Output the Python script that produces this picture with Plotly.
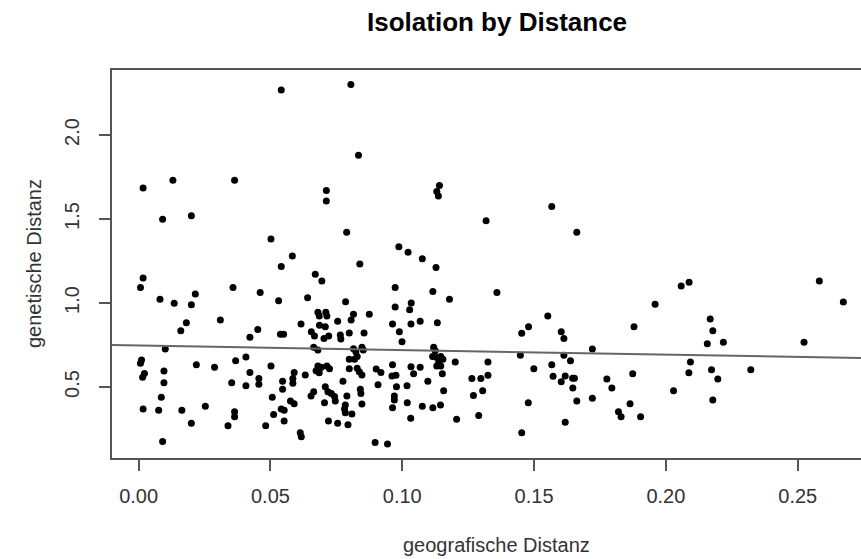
import plotly.graph_objects as go

# Data (geografische Distanz, genetische Distanz)
geo_dist = [
    0.0541, 0.0017, 0.0130, 0.0364, 0.0091, 0.0200, 0.0502, 0.0583,
    0.0805, 0.0834, 0.0712, 0.0712, 0.1141, 0.1131, 0.1137, 0.1318, 0.0789, 0.0987, 0.1022, 0.1076,
    0.1567, 0.1662,
    0.0541, 0.0017, 0.0007, 0.0358, 0.0461, 0.0081, 0.0135, 0.0200, 0.0215, 0.0531,
    0.0181, 0.0160, 0.0310, 0.0452, 0.0422, 0.0538, 0.0550, 0.0101, 0.0011, 0.0007,
    0.0022, 0.0015, 0.0096, 0.0096, 0.0086, 0.0017, 0.0076, 0.0091, 0.0219, 0.0288,
    0.0164, 0.0253, 0.0200, 0.0368, 0.0407, 0.0422, 0.0353, 0.0407, 0.0456, 0.0456,
    0.0502, 0.0507, 0.0364, 0.0364, 0.0339, 0.0482, 0.0512, 0.0541, 0.0552, 0.0552,
    0.0546, 0.0546, 0.0590, 0.0585, 0.0585, 0.0576, 0.0590,
    0.0839, 0.1128, 0.0670, 0.0695, 0.0973, 0.1116, 0.1179, 0.0641, 0.0785, 0.0973,
    0.1034, 0.1028, 0.0680, 0.0710, 0.0685, 0.0714, 0.0815, 0.0806, 0.0875, 0.0616,
    0.0755, 0.0686, 0.0708, 0.0963, 0.1033, 0.1068, 0.1133, 0.0655, 0.0667, 0.0703,
    0.0721, 0.0765, 0.0767, 0.0799, 0.0855, 0.0989, 0.0999, 0.0664, 0.0680, 0.0815,
    0.0824, 0.0847, 0.0852, 0.0829, 0.0819, 0.0799, 0.1119, 0.1125, 0.1115, 0.1131,
    0.1146, 0.1154, 0.1138, 0.1146, 0.1131, 0.1201, 0.1325, 0.0632, 0.0680, 0.0693,
    0.0714, 0.0724, 0.0673, 0.0685, 0.0799, 0.0829, 0.0837, 0.0847, 0.0901, 0.0919,
    0.0963, 0.0961, 0.0976, 0.1033, 0.1043, 0.1068, 0.1152, 0.1097, 0.1264, 0.1298,
    0.1325, 0.0775, 0.0908, 0.0978, 0.1018, 0.1157, 0.1270, 0.1305, 0.0708, 0.0718,
    0.0731, 0.0743, 0.0664, 0.0654, 0.0705, 0.0746, 0.0790, 0.0841, 0.0843, 0.0847,
    0.0784, 0.0781, 0.0784, 0.0809, 0.0970, 0.0970, 0.0963, 0.1019, 0.1076, 0.1116,
    0.1145, 0.1032, 0.1206, 0.1290, 0.0720, 0.0755, 0.0794, 0.0613, 0.0617, 0.0897,
    0.0944,
    0.1359, 0.2058, 0.1959, 0.1552, 0.1453, 0.1479, 0.1603, 0.1613, 0.1879, 0.1721,
    0.1448, 0.1499, 0.1613, 0.1638, 0.1567, 0.1572, 0.1618, 0.1603, 0.1646, 0.1653,
    0.1647, 0.1776, 0.1795, 0.1874, 0.2029, 0.1478, 0.1662, 0.1721, 0.1864, 0.1820,
    0.1830, 0.1904, 0.1618, 0.1453,
    0.2088, 0.2582, 0.2673, 0.2168, 0.2178, 0.2157, 0.2218, 0.2524, 0.2093, 0.2087,
    0.2173, 0.2197, 0.2322, 0.2178,
]

gen_dist = [
    2.268, 1.685, 1.730, 1.730, 1.498, 1.520, 1.381, 1.280,
    2.300, 1.879, 1.669, 1.607, 1.700, 1.663, 1.637, 1.490, 1.421, 1.335, 1.302, 1.264,
    1.575, 1.421,
    1.218, 1.149, 1.093, 1.093, 1.062, 1.022, 0.998, 0.990, 1.054, 1.014,
    0.883, 0.835, 0.899, 0.843, 0.796, 0.814, 0.814, 0.726, 0.661, 0.641,
    0.581, 0.558, 0.595, 0.526, 0.439, 0.369, 0.361, 0.175, 0.633, 0.617,
    0.361, 0.385, 0.284, 0.657, 0.679, 0.587, 0.526, 0.508, 0.550, 0.516,
    0.625, 0.439, 0.353, 0.323, 0.270, 0.270, 0.337, 0.369, 0.361, 0.298,
    0.534, 0.486, 0.587, 0.550, 0.522, 0.417, 0.401,
    1.232, 1.212, 1.171, 1.131, 1.093, 1.069, 1.022, 1.032, 1.008, 0.976,
    1.000, 0.960, 0.945, 0.945, 0.923, 0.923, 0.933, 0.899, 0.933, 0.875,
    0.891, 0.867, 0.859, 0.875, 0.875, 0.891, 0.883, 0.829, 0.804, 0.788,
    0.804, 0.810, 0.786, 0.821, 0.821, 0.829, 0.770, 0.736, 0.720, 0.728,
    0.710, 0.736, 0.720, 0.681, 0.665, 0.665, 0.736, 0.716, 0.681, 0.675,
    0.681, 0.665, 0.645, 0.625, 0.625, 0.649, 0.649, 0.572, 0.625, 0.617,
    0.625, 0.609, 0.597, 0.585, 0.609, 0.611, 0.591, 0.572, 0.607, 0.587,
    0.633, 0.566, 0.570, 0.621, 0.579, 0.617, 0.579, 0.534, 0.550, 0.550,
    0.570, 0.534, 0.514, 0.502, 0.508, 0.478, 0.449, 0.478, 0.502, 0.472,
    0.462, 0.443, 0.472, 0.447, 0.407, 0.417, 0.447, 0.486, 0.462, 0.399,
    0.393, 0.369, 0.347, 0.339, 0.447, 0.423, 0.377, 0.407, 0.385, 0.377,
    0.393, 0.314, 0.308, 0.331, 0.298, 0.284, 0.276, 0.228, 0.204, 0.169,
    0.161,
    1.062, 1.101, 0.992, 0.923, 0.820, 0.859, 0.829, 0.788, 0.859, 0.726,
    0.689, 0.609, 0.689, 0.657, 0.633, 0.564, 0.566, 0.532, 0.552, 0.552,
    0.494, 0.548, 0.494, 0.579, 0.478, 0.407, 0.417, 0.433, 0.401, 0.353,
    0.323, 0.323, 0.290, 0.228,
    1.123, 1.131, 1.006, 0.905, 0.835, 0.758, 0.766, 0.766, 0.649, 0.585,
    0.603, 0.548, 0.603, 0.423,
]

# Regression line (abline of lm)
fit_intercept = 0.747
fit_slope = -0.271

x_ticks = [0.00, 0.05, 0.10, 0.15, 0.20, 0.25]
x_tick_labels = ["0.00", "0.05", "0.10", "0.15", "0.20", "0.25"]
y_ticks = [0.5, 1.0, 1.5, 2.0]
y_tick_labels = ["0.5", "1.0", "1.5", "2.0"]

title_text = "Isolation by Distance"
x_title = "geografische Distanz"
y_title = "genetische Distanz"

x_range = [-0.0101, 0.2740]
y_range = [0.0774, 2.3869]

W, H = 861, 559
ML, MT, MB, MR = 112, 70, 101, 0

AX = "#555555"
FONT = "Liberation Sans, Arial, sans-serif"

fig = go.Figure()
fig.add_trace(go.Scatter(
    x=geo_dist, y=gen_dist, mode="markers",
    marker=dict(color="black", size=7, line=dict(width=0)),
    showlegend=False, hoverinfo="x+y",
))
line_x = list(x_range)
line_y = [fit_intercept + fit_slope * v for v in line_x]
fig.add_trace(go.Scatter(
    x=line_x, y=line_y, mode="lines",
    line=dict(color="#666666", width=2),
    showlegend=False, hoverinfo="skip",
))

pw = W - ML - MR
ph = H - MT - MB

fig.update_layout(
    width=W, height=H,
    margin=dict(l=ML, r=MR, t=MT, b=MB, pad=0),
    paper_bgcolor="white", plot_bgcolor="white",
    font=dict(family=FONT, color="#333333", size=20),
    xaxis=dict(
        range=x_range, tickvals=x_ticks, ticktext=x_tick_labels,
        showgrid=False, zeroline=False,
        showline=True, mirror=True, linecolor=AX, linewidth=1.5,
        ticks="outside", ticklen=11, tickwidth=1.5, tickcolor=AX,
        ticklabelstandoff=8,
        tickfont=dict(size=20, color="#333333"),
    ),
    yaxis=dict(
        range=y_range, tickvals=y_ticks, ticktext=y_tick_labels,
        showgrid=False, zeroline=False,
        showline=True, mirror=False, linecolor=AX, linewidth=1.5,
        ticks="outside", ticklen=11, tickwidth=1.5, tickcolor=AX,
        tickangle=-90, ticklabelstandoff=12,
        tickfont=dict(size=20, color="#333333"),
    ),
    annotations=[
        dict(text="<b>" + title_text + "</b>", xref="paper", yref="paper",
             x=(497 - ML) / pw, y=(H - MB - 22) / ph,
             xanchor="center", yanchor="middle", showarrow=False,
             font=dict(size=26, color="black", family=FONT)),
        dict(text=x_title, xref="paper", yref="paper",
             x=(497 - ML) / pw, y=(H - MB - 545) / ph,
             xanchor="center", yanchor="middle", showarrow=False,
             font=dict(size=20, color="#333333", family=FONT)),
        dict(text=y_title, xref="paper", yref="paper", textangle=-90,
             x=(34 - ML) / pw, y=0.5,
             xanchor="center", yanchor="middle", showarrow=False,
             font=dict(size=20, color="#333333", family=FONT)),
    ],
)

fig.write_html("out.html")
